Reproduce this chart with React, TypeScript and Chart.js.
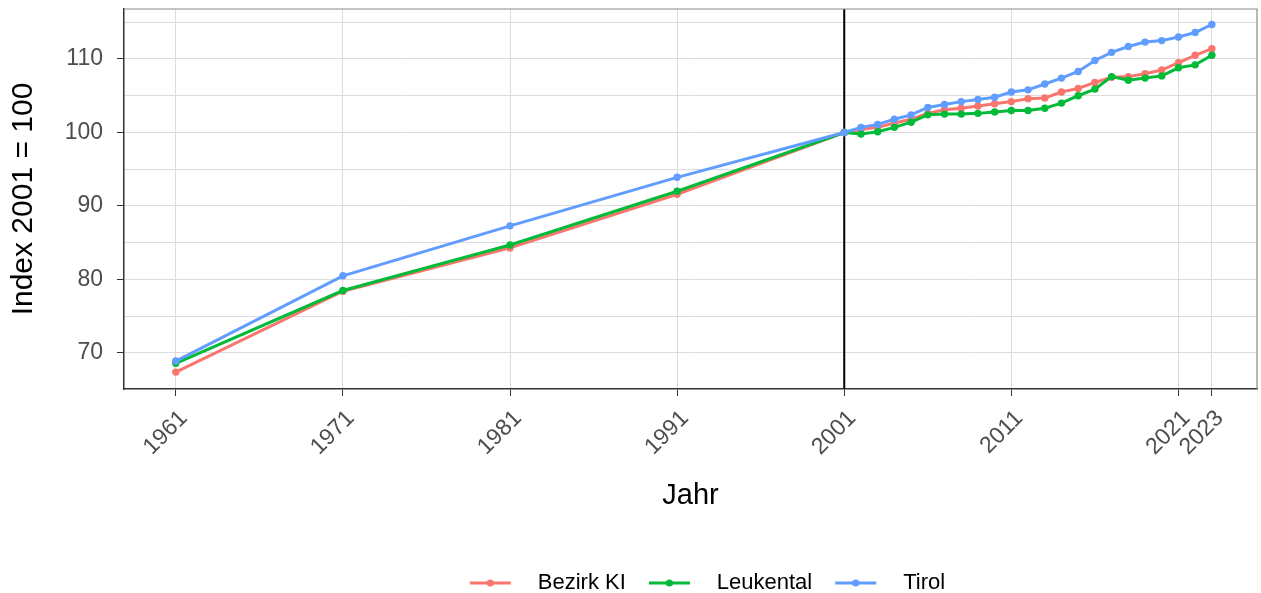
import { useEffect, useRef } from 'react';
import { Chart, registerables } from 'chart.js';

Chart.register(...registerables);

// years: census years up to 2001, then yearly
const YEARS = [
  1961, 1971, 1981, 1991, 2001, 2002, 2003, 2004, 2005, 2006, 2007, 2008,
  2009, 2010, 2011, 2012, 2013, 2014, 2015, 2016, 2017, 2018, 2019, 2020,
  2021, 2022, 2023,
];

const BEZIRK_KI = [
  67.4, 78.4, 84.3, 91.6, 100, 100.4, 100.7, 101.3, 101.8, 102.6, 103.1, 103.3,
  103.6, 103.9, 104.2, 104.6, 104.7, 105.5, 106.0, 106.8, 107.5, 107.6, 108.0,
  108.5, 109.5, 110.5, 111.4,
];
const LEUKENTAL = [
  68.6, 78.5, 84.7, 92.0, 100, 99.8, 100.1, 100.7, 101.4, 102.4, 102.5, 102.5,
  102.6, 102.8, 103.0, 103.0, 103.3, 104.0, 105.0, 105.9, 107.6, 107.1, 107.4,
  107.7, 108.8, 109.2, 110.5,
];
const TIROL = [
  68.9, 80.5, 87.3, 93.9, 100, 100.7, 101.1, 101.8, 102.4, 103.4, 103.8, 104.2,
  104.5, 104.8, 105.5, 105.8, 106.6, 107.4, 108.3, 109.8, 110.9, 111.7, 112.3,
  112.5, 113.0, 113.6, 114.7,
];

const SERIES_NAMES = ['Bezirk KI', 'Leukental', 'Tirol'];
const SERIES_COLORS = ['#F8766D', '#00BA38', '#619CFF'];

const X_TICKS = [1961, 1971, 1981, 1991, 2001, 2011, 2021, 2023];
const Y_TICKS = [70, 75, 80, 85, 90, 95, 100, 105, 110, 115];
const BASE_YEAR = 2001;

const FONT = '"Liberation Sans", Arial, sans-serif';

// legend key: short line with a dot, like ggplot
function legendKey(color: string) {
  const c = document.createElement('canvas');
  c.width = 58;
  c.height = 12;
  const g = c.getContext('2d')!;
  g.strokeStyle = color;
  g.lineWidth = 3;
  g.beginPath();
  g.moveTo(1, 6);
  g.lineTo(42, 6);
  g.stroke();
  g.fillStyle = color;
  g.beginPath();
  g.arc(21.5, 6, 3.6, 0, Math.PI * 2);
  g.fill();
  return c;
}

const panelPlugin = {
  id: 'panel',
  afterLayout(chart: any) {
    // ggplot puts the legend a bit lower and right of the canvas centre
    const lg = chart.legend;
    if (lg) {
      lg.left += 78;
      lg.right += 78;
      lg.top += 11;
      lg.bottom += 11;
    }
  },
  beforeDatasetsDraw(chart: any) {
    const { ctx, chartArea: a, scales } = chart;
    const x = scales.x.getPixelForValue(BASE_YEAR);
    ctx.save();
    ctx.strokeStyle = '#000';
    ctx.lineWidth = 2;
    ctx.beginPath();
    ctx.moveTo(x, a.top);
    ctx.lineTo(x, a.bottom);
    ctx.stroke();
    ctx.restore();
  },
  afterDraw(chart: any) {
    const { ctx, chartArea: a } = chart;
    ctx.save();
    ctx.strokeStyle = '#8a8a8a';
    ctx.lineWidth = 1.2;
    ctx.beginPath();
    ctx.moveTo(a.left, a.top);
    ctx.lineTo(a.right, a.top);
    ctx.lineTo(a.right, a.bottom);
    ctx.stroke();
    ctx.restore();
  },
};

function App() {
  const canvasRef = useRef<HTMLCanvasElement>(null);
  const chartRef = useRef<Chart | null>(null);

  useEffect(() => {
    if (!canvasRef.current) return;
    if (chartRef.current) chartRef.current.destroy();

    const seriesValues = [BEZIRK_KI, LEUKENTAL, TIROL];
    const datasets = SERIES_NAMES.map((name, i) => ({
      label: name,
      data: YEARS.map((y, j) => ({ x: y, y: seriesValues[i][j] })),
      borderColor: SERIES_COLORS[i],
      backgroundColor: SERIES_COLORS[i],
      pointBackgroundColor: SERIES_COLORS[i],
      borderWidth: 3,
      pointRadius: 3.7,
      pointBorderWidth: 0,
      tension: 0,
      order: 2 - i,
    }));

    chartRef.current = new Chart(canvasRef.current, {
      type: 'line',
      data: { datasets },
      plugins: [panelPlugin],
      options: {
        animation: false,
        responsive: true,
        maintainAspectRatio: false,
        layout: { padding: { top: 9, right: 3, left: 0, bottom: 0 } },
        plugins: {
          tooltip: { enabled: false },
          legend: {
            position: 'bottom',
            labels: {
              usePointStyle: true,
              pointStyleWidth: 58,
              padding: 22,
              color: '#000',
              font: { family: FONT, size: 22 },
              generateLabels: (chart: any) =>
                chart.data.datasets.map((ds: any, i: number) => ({
                  text: ds.label,
                  fillStyle: ds.borderColor,
                  strokeStyle: ds.borderColor,
                  lineWidth: 0,
                  pointStyle: legendKey(ds.borderColor),
                  datasetIndex: i,
                  hidden: false,
                  fontColor: '#000',
                })),
            },
          },
        },
        scales: {
          x: {
            type: 'linear',
            min: 1957.9,
            max: 2025.7,
            afterBuildTicks: (scale: any) => {
              scale.ticks = X_TICKS.map((v) => ({ value: v }));
            },
            afterFit: (scale: any) => {
              scale.height = 150;
              scale.paddingLeft = 0;
              scale.paddingRight = 0;
            },
            ticks: {
              autoSkip: false,
              minRotation: 45,
              maxRotation: 45,
              padding: 9,
              labelOffset: 8,
              color: '#4D4D4D',
              font: { family: FONT, size: 23 },
              callback: (v: any) => String(v),
            },
            grid: {
              color: '#DCDCDC',
              lineWidth: 1,
              tickLength: 7,
              tickColor: '#333',
            },
            border: { color: '#333', width: 1.5 },
            title: {
              display: true,
              text: 'Jahr',
              color: '#000',
              font: { family: FONT, size: 29 },
              padding: { top: 0, bottom: 26 },
            },
          },
          y: {
            type: 'linear',
            min: 65.1,
            max: 116.8,
            afterBuildTicks: (scale: any) => {
              scale.ticks = Y_TICKS.map((v) => ({ value: v }));
            },
            afterFit: (scale: any) => {
              scale.width = 124;
              scale.paddingTop = 0;
              scale.paddingBottom = 0;
            },
            ticks: {
              padding: 14,
              color: '#4D4D4D',
              font: { family: FONT, size: 23 },
              callback: (v: any) => (v % 10 === 0 ? String(v) : ''),
            },
            grid: {
              color: '#DCDCDC',
              lineWidth: 1,
              tickLength: 7,
              tickColor: (ctx: any) =>
                ctx.tick && ctx.tick.value % 10 === 0 ? '#333' : 'rgba(0,0,0,0)',
            },
            border: { color: '#333', width: 1.5 },
            title: {
              display: true,
              text: 'Index 2001 = 100',
              color: '#000',
              font: { family: FONT, size: 30 },
              padding: { top: 6, bottom: 0 },
            },
          },
        },
      },
    });

    return () => {
      if (chartRef.current) {
        chartRef.current.destroy();
        chartRef.current = null;
      }
    };
  }, []);

  return (
    <div style={{ position: 'fixed', left: 0, top: 0, width: 1261, height: 593, background: '#fff' }}>
      <canvas ref={canvasRef} />
    </div>
  );
}

export default App;
